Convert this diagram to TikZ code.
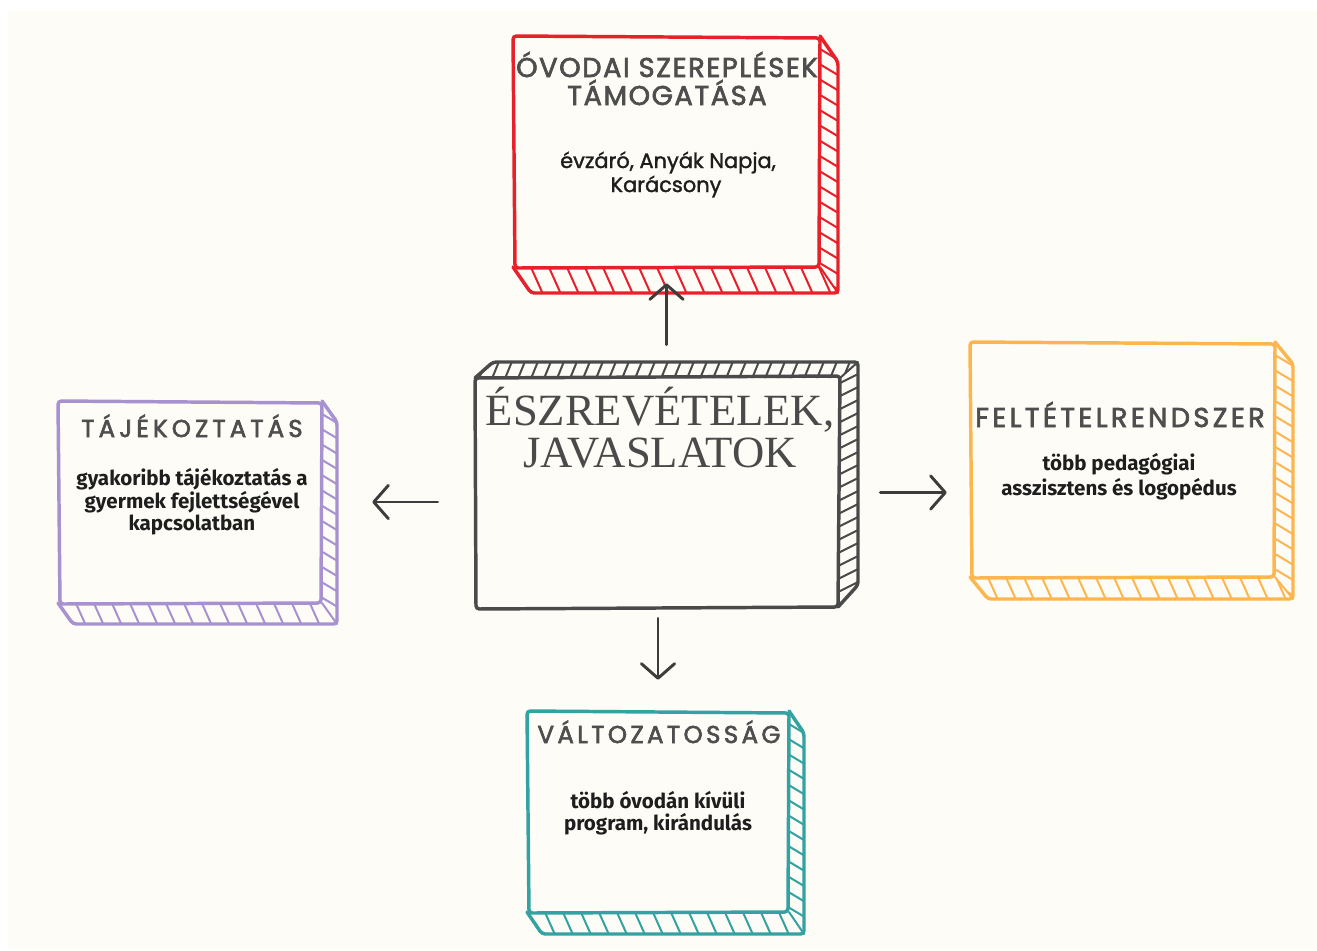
\documentclass[tikz,border=0pt]{standalone}
\usepackage{fontspec}
\setmainfont{Liberation Serif}
\newfontfamily\titlefont{Poppins}[LetterSpace=8, FakeBold=2.5]
\newfontfamily\handfont{Poppins}[FakeBold=1.5]
\newfontfamily\bodyfont{Fira Sans}
\usetikzlibrary{arrows.meta,fit}
\definecolor{cream}{HTML}{FDFCF6}
\definecolor{cred}{HTML}{E8202A}
\definecolor{cpurple}{HTML}{A791D0}
\definecolor{corange}{HTML}{FDB64F}
\definecolor{cteal}{HTML}{33A2A3}
\definecolor{cgray}{HTML}{4A4A4A}
\definecolor{titlegray}{HTML}{4E4E4E}
\definecolor{bodyblack}{HTML}{1E1E1E}
\definecolor{arrowgray}{HTML}{3C3C3C}

\tikzset{
  outline/.style={line width=2.6pt, line join=round, line cap=round, rounded corners=2.5pt},
  hatchline/.style={line width=1.5pt, line cap=round},
  arr/.style={draw=arrowgray, line width=2.2pt, line cap=round, line join=round,
    -{Straight Barb[length=11pt,width=25pt,round]}},
  boxtitle/.style={anchor=base, inner sep=0pt, text=titlegray,
    font=\titlefont\fontsize{#1}{#1}\selectfont},
  bodytext/.style={anchor=base, inner sep=0pt, text=bodyblack,
    font=\bodyfont\bfseries\fontsize{15.4}{17}\selectfont},
  handtext/.style={anchor=base, inner sep=0pt, text=bodyblack,
    font=\handfont\fontsize{15.7}{18}\selectfont},
  maintitle/.style={anchor=base, inner sep=0pt, text=cgray, align=center,
    font=\fontsize{33.5}{31}\selectfont},
}

% name, x1, y1, x2, y2, dx, dy, colour, hatch spacing
\newcommand{\cubebox}[9]{%
  \node[fit={(#2,#3) (#4,#5)}, inner sep=0pt] (#1) {};
  \begin{scope}
    \clip (#2,#5) -- (#4,#5) -- (#4+#6,#5+#7) -- (#2+#6,#5+#7) -- cycle;
    \pgfmathtruncatemacro\nn{(#4-#2+#6+40)/#9}
    \foreach \i in {0,...,\nn}{
      \draw[hatchline,#8] ({#2-20+\i*#9},#5-4) -- ({#2-20+\i*#9+0.45*(#7+8)},#5+#7+4);
    }
  \end{scope}
  \begin{scope}
    \clip (#4,#3) -- (#4+#6,#3+#7) -- (#4+#6,#5+#7) -- (#4,#5) -- cycle;
    \pgfmathtruncatemacro\nn{(#5-#3+#7+40)/(#9*0.85)}
    \foreach \i in {0,...,\nn}{
      \draw[hatchline,#8] (#4-4,{#3-20+\i*#9*0.85}) -- (#4+#6+4,{#3-20+\i*#9*0.85+0.6*(#6+8)});
    }
  \end{scope}
  \draw[outline,#8] (#2,#5) -- (#2+#6,#5+#7) -- (#4+#6,#5+#7) -- (#4+#6,#3+#7) -- (#4,#3);
  \draw[hatchline,#8] (#4,#5) -- (#4+#6,#5+#7);
  \draw[outline,#8] (#2,#3) -- (#4,#3+2) -- (#4-1,#5) -- (#2+2,#5+1) -- cycle;
}

\begin{document}
\begin{tikzpicture}[x=0.75pt,y=-0.75pt]
  \useasboundingbox (0,0) rectangle (1317,950);
  \fill[white] (0,0) rectangle (1317,950);
  \fill[cream] (8,10) rectangle (1317,950);

  % coloured boxes
  \cubebox{redbox}{513}{36}{820}{267}{18}{26}{cred}{18}
  \cubebox{purplebox}{58}{401}{322}{603}{15}{21}{cpurple}{18}
  \cubebox{orangebox}{970}{342}{1275}{577}{18}{22}{corange}{18}
  \cubebox{tealbox}{527}{711}{789}{912}{15}{22}{cteal}{18}

  % central box (extruded up and right)
  \node[fit={(475,378) (840,607)}, inner sep=0pt] (cbox) {};
  \begin{scope}
    \clip (475,378) -- (840,378) -- (858,362) -- (493,362) -- cycle;
    \foreach \i in {0,...,30}{
      \draw[hatchline,cgray] ({465+\i*13},381) -- ({474+\i*13},359);
    }
  \end{scope}
  \begin{scope}
    \clip (840,378) -- (858,362) -- (858,585) -- (838,607) -- cycle;
    \foreach \i in {0,...,20}{
      \draw[hatchline,cgray] (836,{372+\i*13}) -- (862,{359+\i*13});
    }
  \end{scope}
  \draw[outline,cgray] (475,378) -- (493,362) -- (858,362) -- (858,585) -- (838,607);
  \draw[hatchline,cgray] (840,378) -- (858,362);
  \draw[outline,cgray] (475,378) -- (840,376) -- (838,607) -- (476,609) -- cycle;

  % texts
  \node[maintitle] (ct) at (660,467) {ÉSZREVÉTELEK,\\JAVASLATOK};

  \node[boxtitle=20.4] (rt1) at (667,77) {\addfontfeature{LetterSpace=6}ÓVODAI SZEREPLÉSEK};
  \node[boxtitle=20.4] (rt2) at (667,105) {\addfontfeature{LetterSpace=6}TÁMOGATÁSA};
  \node[handtext] (rb1) at (668,168) {évzáró, Anyák Napja,};
  \node[handtext] (rb2) at (666,192) {Karácsony};

  \node[boxtitle=18.3] (pt) at (192,437) {\addfontfeature{LetterSpace=17}TÁJÉKOZTATÁS};
  \node[bodytext] (pb1) at (192,485) {gyakoribb tájékoztatás a};
  \node[bodytext] (pb2) at (192,508) {gyermek fejlettségével};
  \node[bodytext] (pb3) at (192,530) {kapcsolatban};

  \node[boxtitle=20.4] (ot) at (1120,427) {\addfontfeature{LetterSpace=12.5}FELTÉTELRENDSZER};
  \node[bodytext] (ob1) at (1119,470) {több pedagógiai};
  \node[bodytext] (ob2) at (1119,495) {asszisztens és logopédus};

  \node[boxtitle=18.3] (tt) at (659,743) {\addfontfeature{LetterSpace=14}VÁLTOZATOSSÁG};
  \node[bodytext] (tb1) at (658,808) {több óvodán kívüli};
  \node[bodytext] (tb2) at (658,830) {program, kirándulás};

  % arrows
  \draw[arr, shorten <=24.75pt, shorten >=12pt] (redbox.south |- cbox.north) -- (redbox.south);
  \draw[arr, shorten <=8.25pt, shorten >=23.25pt] (tealbox.north |- cbox.south) -- (tealbox.north);
  \draw[arr, shorten <=27.75pt, shorten >=37.5pt] (cbox.west |- purplebox.east) -- (purplebox.east);
  \draw[arr, shorten <=30pt, shorten >=17.25pt] (cbox.east) -- (orangebox.west |- cbox.east);
\end{tikzpicture}
\end{document}
